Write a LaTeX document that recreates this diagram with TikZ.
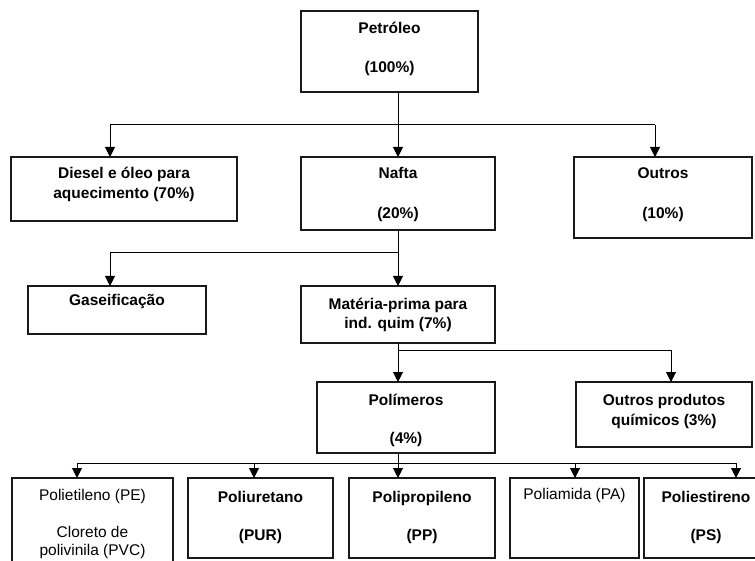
\documentclass[tikz,border=0pt]{standalone}
\usepackage{fontspec}
\setmainfont{Liberation Sans}
\usetikzlibrary{arrows.meta}
\begin{document}
\begin{tikzpicture}[x=1pt,y=-1pt,
  box/.style={draw=black!90,line width=1.3pt,fill=white,inner sep=0pt,outer sep=0pt},
  conn/.style={draw=black,line width=1pt},
  arr/.style={conn,-{Triangle[width=10pt,length=10pt]}},
  lbl/.style={anchor=base,inner sep=0pt,font=\fontsize{15.5}{20}\selectfont\bfseries},
  lblr/.style={anchor=base,inner sep=0pt,font=\fontsize{15.5}{20}\selectfont}]
\useasboundingbox[fill=white] (0,0) rectangle (755,561);

% boxes
\node[box,minimum width=177pt,minimum height=81pt] (pet) at (389.5,51.5) {};
\node[box,minimum width=226pt,minimum height=64pt] (dies) at (124,189) {};
\node[box,minimum width=194pt,minimum height=73pt] (naf) at (398,193.5) {};
\node[box,minimum width=178pt,minimum height=81pt] (out) at (663,197.5) {};
\node[box,minimum width=178pt,minimum height=48pt] (gas) at (117,310) {};
\node[box,minimum width=194pt,minimum height=57pt] (mat) at (398,314.5) {};
\node[box,minimum width=178pt,minimum height=71pt] (pol) at (406,417.5) {};
\node[box,minimum width=176pt,minimum height=65pt] (oup) at (664,414.5) {};
\node[box,minimum width=161pt,minimum height=92pt] (pe) at (92.5,524) {};
\node[box,minimum width=145pt,minimum height=80pt] (pur) at (260.5,518) {};
\node[box,minimum width=146pt,minimum height=80pt] (pp) at (422,518) {};
\node[box,minimum width=129pt,minimum height=80pt] (pa) at (574.5,518) {};
\node[box,minimum width=124pt,minimum height=80pt] (ps) at (706,518) {};

% texts
\node[lbl] (t1) at (389.5,34) {Petróleo};
\node[lbl] (t2) at (389.5,73) {(100\%)};
\node[lbl] (t3) at (124,179) {Diesel e óleo para};
\node[lbl] (t4) at (124,199) {aquecimento (70\%)};
\node[lbl] (t5) at (398,179) {Nafta};
\node[lbl] (t6) at (398,219) {(20\%)};
\node[lbl] (t7) at (663,179) {Outros};
\node[lbl] (t8) at (663,219) {(10\%)};
\node[lbl] (t9) at (117,306) {Gaseificação};
\node[lbl] (t10) at (398,309) {Matéria-prima para};
\node[lbl] (t11) at (398,329) {ind. quim (7\%)};
\node[lbl] (t12) at (406,405) {Polímeros};
\node[lbl] (t13) at (406,443) {(4\%)};
\node[lbl] (t14) at (664,405) {Outros produtos};
\node[lbl] (t15) at (664,425) {químicos (3\%)};
\node[lblr] (t16) at (92.5,500) {Polietileno (PE)};
\node[lblr] (t17) at (92.5,537) {Cloreto de};
\node[lblr] (t18) at (92.5,555) {polivinila (PVC)};
\node[lbl] (t19) at (260.5,502) {Poliuretano};
\node[lbl] (t20) at (260.5,540) {(PUR)};
\node[lbl] (t21) at (422,502) {Polipropileno};
\node[lbl] (t22) at (422,540) {(PP)};
\node[lblr] (t23) at (574.5,499) {Poliamida (PA)};
\node[lbl] (t24) at (706,502) {Poliestireno};
\node[lbl] (t25) at (706,540) {(PS)};

% junction coordinates
\coordinate (a1) at (110,125);
\coordinate (j1) at (398,125);
\coordinate (a3) at (655,125);
\coordinate (b1) at (110,253);
\coordinate (j2) at (398,253);
\coordinate (j3) at (398,350);
\coordinate (c2) at (671,350);
\coordinate (d1) at (77,463);
\coordinate (d2) at (254,463);
\coordinate (j4) at (398,463);
\coordinate (d4) at (575,463);
\coordinate (d5) at (736,463);

% level 1
\draw[conn] (pet.south -| j1) -- (j1);
\draw[conn] (a1) -- (a3);
\draw[arr] (a1) -- (a1 |- dies.north);
\draw[arr] (j1) -- (j1 |- naf.north);
\draw[arr] (a3) -- (a3 |- out.north);
% level 2
\draw[conn] (naf.south -| j2) -- (j2) -- (b1);
\draw[arr] (b1) -- (b1 |- gas.north);
\draw[arr] (j2) -- (j2 |- mat.north);
% level 3
\draw[conn] (mat.south -| j3) -- (j3) -- (c2);
\draw[arr] (j3) -- (j3 |- pol.north);
\draw[arr] (c2) -- (c2 |- oup.north);
% level 4
\draw[conn] (pol.south -| j4) -- (j4);
\draw[conn] (d1) -- (d5);
\draw[arr] (d1) -- (d1 |- pe.north);
\draw[arr] (d2) -- (d2 |- pur.north);
\draw[arr] (j4) -- (j4 |- pp.north);
\draw[arr] (d4) -- (d4 |- pa.north);
\draw[arr] (d5) -- (d5 |- ps.north);
\end{tikzpicture}
\end{document}
